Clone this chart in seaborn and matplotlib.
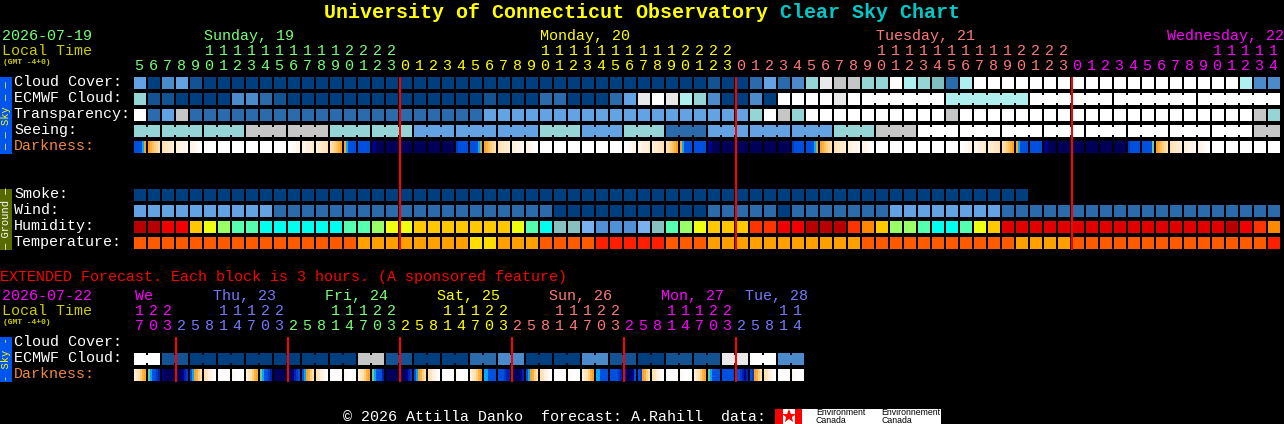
import numpy as np
import matplotlib
matplotlib.use("Agg")
import matplotlib.pyplot as plt
from matplotlib.colors import ListedColormap
from matplotlib.patches import Rectangle
import seaborn as sns

# palettes, data below are indexes into them
sky_colors = ["#003f7f", "#135393", "#2b6bab", "#4b8bcb", "#63a3e3", "#7fbfbf",
              "#95d5d5", "#afefef", "#c6c6c6", "#e9e9e9", "#ffffff"]
humidity_colors = ["#b80000", "#e00000", "#f00000", "#ff3300", "#ff8800", "#ffc800", "#eeff10",
                   "#99ff66", "#55ffb0", "#00ffee", "#88c0c0", "#78b0f0", "#5090d8"]
temperature_colors = ["#ff1e00", "#ff5a00", "#ffa000", "#ffdd00"]
darkness_colors = {"k": "#000058", "m": "#000090", "d": "#0020b0", "e": "#0038c8", "b": "#0050e0",
                   "c": "#00a8ff", "g": "#70c890", "y": "#c0a850", "o": "#ffa020", "h": "#ffb040",
                   "p": "#ffc060", "i": "#ffd080", "q": "#ffd898", "j": "#ffe0b0", "r": "#ffe6c0",
                   "l": "#ffebcc", "s": "#fff0dc", "n": "#fff5e6", "t": "#fffaf4", "w": "#ffffff"}

# hourly forecast, 82 blocks from 05h Sunday
cloud_cover = [4, 0, 3, 4, 1] + [0] * 36 + [1, 0, 0] + [2, 4, 2, 3, 6, 9, 8, 8, 6, 6, 10, 7, 6, 5, 2, 7] + [10] * 19 + [7, 3, 3]
ecmwf_cloud = [6, 1, 1, 0, 0, 0, 0, 3, 3, 2, 1] + [0] * 14 + [1, 0, 0, 0, 2, 2, 0, 0, 0, 2, 4, 9, 10, 9, 7, 6, 3, 0, 0, 3, 0] \
    + [10] * 4 + [9] + [10] * 7 + [7] * 6 + [10] * 18
transparency = [10, 2, 4, 8] + [2] * 21 + [4] * 19 + [6, 10, 8, 6] + [10] * 10 + [8] + [10] * 21 + [8, 6]
seeing = [6] * 8 + [8] * 6 + [6] * 6 + [4] * 9 + [6] * 3 + [4] * 3 + [6] * 3 + [2] * 3 + [4] * 9 + [6] * 3 + [8] * 3 + [10] * 24 + [8] * 2
smoke = [0] * 64 + [np.nan] * 18
wind = [4] * 10 + [2] * 20 + [0] * 11 + [2] * 5 + [0] + [2] * 7 + [4] * 8 + [2] * 20
humidity = [0, 0, 2, 2, 5, 6, 7, 8, 8] + [9] * 6 + [8, 8, 7, 6, 6, 5] + [5] * 6 + [6, 8, 9, 10, 10, 11, 12, 12, 12, 11, 10, 8, 7, 6, 5, 5, 5,
            3, 3, 2, 2, 0, 0, 0, 3, 4, 5, 7, 7, 8, 9, 9, 8, 6, 5] + [1] * 16 + [0, 2, 3, 4]
temperature = [1] * 16 + [2] * 8 + [3] * 2 + [2] * 3 + [1] * 4 + [0] * 5 + [1] * 3 + [2] * 11 + [1] * 11 + [2] * 4 + [1] * 14 + [0]

daylight = ["ohpiqj", "jrrlls", "ssnnnt", "nnttww"] + ["wwwwww"] * 6 + ["wwttnn", "nnsssl", "sllrrj", "jqipho"]
night = ["ocbbbb", "bbbbbb", "mmkkkk"] + ["kkkkkk"] * 5 + ["ebbbbb"]
darkness = ["bbbbco"] + daylight + night + ["bbbbcy"] + daylight + night + ["bbbbcy"] + daylight + night + ["bbbbbg"] + daylight[:9]

# extended forecast, 48 blocks of 3 hours
ext_cloud = [10, 10, 1, 1] + [0] * 12 + [8, 8, 1, 1, 0, 0, 0, 0, 2, 2, 3, 3, 0, 0, 0, 0, 3, 3, 1, 1, 0, 0, 1, 1, 1, 1, 9, 9, 10, 10, 3, 3]
ext_darkness = ["srjiho", "gcbbed", "mkkkkk", "kkkmde", "bcohij", "jrsntw", "wwwwww", "ttwwww",
                "srjiho", "gcbbed", "kkkkkk", "kkmdeb", "bcohij", "jrsntw", "wwwwww", "ttwwww",
                "srjiho", "gcbbbd", "kkkkkk", "kkkmde", "bcohij", "jrsntw", "wwwwww", "ttwwww",
                "srjiho", "ccbbbb", "bbbedd", "kkkkmd", "bcohij", "jrsntw", "wwwwww", "ttwwww",
                "srjiho", "ccbbbb", "bbbbed", "dkkkmb", "beohij", "jrsntw", "wwwwww", "ttwwww",
                "srjiho", "gcbbbb", "bbbbbb", "bbedmd", "beohij", "jrsntw", "wwwwww", "ttwwww"]

# tick labels
main_hours = list(range(5, 24)) + list(range(24)) + list(range(24)) + list(range(15))
ext_hours = [17, 20, 23] + [2, 5, 8, 11, 14, 17, 20, 23] * 5 + [2, 5, 8, 11, 14]
main_day_colors = ["#77ff77", "#ffff00", "#ff7878", "#ff00ff"]
ext_day_colors = ["#ff00ff", "#7878ff", "#77ff77", "#ffff00", "#ff7878", "#ff00ff", "#7878ff"]
main_days = ["Sunday, 19", "Monday, 20", "Tuesday, 21", "Wednesday, 22"]
main_day_x = [204, 540, 876, 1167]
ext_days = ["We", "Thu, 23", "Fri, 24", "Sat, 25", "Sun, 26", "Mon, 27", "Tue, 28"]
ext_day_x = [135, 213, 325, 437, 549, 661, 745]

W, H = 1284, 424
LEFT = 134
PITCH = 14
LABEL_SIZE = 10.8

sns.set_style("dark", {"axes.facecolor": "black", "figure.facecolor": "black"})
plt.rcParams["font.family"] = ["Liberation Mono", "DejaVu Sans Mono"]

fig = plt.figure(figsize=(W / 100, H / 100), dpi=100, facecolor="black")


def draw_strip(cells, colors, top, joined=()):
    # one row of blocks on a 2px grid: 6 columns of colour and 1 gap per block
    n = len(cells)
    grid = np.full((6, 7 * n), np.nan)
    for i, cell in enumerate(cells):
        grid[:, 7 * i:7 * i + 6] = cell
    for i in joined:
        grid[1:5, 7 * i + 6] = cells[i]
    ax = fig.add_axes([LEFT / W, 1 - (top + 12) / H, 7 * n * 2 / W, 12 / H])
    sns.heatmap(grid, cmap=ListedColormap(colors), vmin=-0.5, vmax=len(colors) - 0.5,
                cbar=False, xticklabels=False, yticklabels=False, ax=ax)
    ax.set_facecolor("black")
    return ax


dark_keys = list(darkness_colors)
dark_palette = list(darkness_colors.values())


def dark_cells(rows):
    return [[dark_keys.index(c) for c in row] for row in rows]


# Sky block
draw_strip(cloud_cover, sky_colors, 77)
draw_strip(ecmwf_cloud, sky_colors, 93, [i for i in range(52, 81) if (i - 51) % 6])
draw_strip(transparency, sky_colors, 109)
draw_strip(seeing, sky_colors, 125, [i for i in range(81) if (i - 1) % 3])
draw_strip(dark_cells(darkness), dark_palette, 141)

# Ground block
draw_strip(smoke, sky_colors, 189)
draw_strip(wind, sky_colors, 205)
draw_strip(humidity, humidity_colors, 221)
draw_strip(temperature, temperature_colors, 237)

# Extended block
draw_strip(ext_cloud, sky_colors, 353, range(0, 47, 2))
draw_strip(dark_cells(ext_darkness), dark_palette, 369)

# text, red lines and side bars go on one overlay in pixel coordinates
over = fig.add_axes([0, 0, 1, 1])
over.set_xlim(0, W)
over.set_ylim(H, 0)
over.axis("off")
over.patch.set_alpha(0)


def label(x, y, s, color="white", size=LABEL_SIZE, **kw):
    over.text(x, y, s, color=color, fontsize=size, va="baseline", **kw)


def day_line(i, y0, y1):
    over.add_patch(Rectangle((LEFT + PITCH * i - 1, y0), 2, y1 - y0, color="#ff0000", lw=0, antialiased=False))


label(324, 18, "University of Connecticut Observatory", "#ffff00", 14.4, fontweight="bold")
label(780, 18, "Clear Sky Chart", "#00c8c8", 14.4, fontweight="bold")

label(2, 40, "2026-07-19", "#77ff77")
label(2, 55, "Local Time", "#cccc00")
label(3, 64, "(GMT -4+0)", "#cccc00", 5.8, fontweight="bold")
for name, x, color in zip(main_days, main_day_x, main_day_colors):
    label(x, 40, name, color)

day = 0
for i, hour in enumerate(main_hours):
    if hour == 0 and i > 0:
        day += 1
        day_line(i, 77, 250)
    cx = LEFT + PITCH * i + 5
    label(cx, 70, str(hour % 10), main_day_colors[day], ha="center")
    if hour >= 10:
        label(cx, 55, str(hour // 10), main_day_colors[day], ha="center")

for name, top, color in [("Cloud Cover:", 77, "white"), ("ECMWF Cloud:", 93, "white"),
                         ("Transparency:", 109, "white"), ("Seeing:", 125, "white"),
                         ("Darkness:", 141, "#ee8840"), ("Smoke:", 189, "white"),
                         ("Wind:", 205, "white"), ("Humidity:", 221, "white"),
                         ("Temperature:", 237, "white"), ("Cloud Cover:", 337, "white"),
                         ("ECMWF Cloud:", 353, "white"), ("Darkness:", 369, "#ee8840")]:
    label(14, top + 9, name, color)

label(0, 281, "EXTENDED Forecast. Each block is 3 hours. (A sponsored feature)", "#ff0000")
label(2, 300, "2026-07-22", "#ff00ff")
label(2, 315, "Local Time", "#cccc00")
label(3, 324, "(GMT -4+0)", "#cccc00", 5.8, fontweight="bold")
for name, x, color in zip(ext_days, ext_day_x, ext_day_colors):
    label(x, 300, name, color)

day = 0
for i, hour in enumerate(ext_hours):
    if i > 0 and hour < ext_hours[i - 1]:
        day += 1
        day_line(i, 337, 382)
    cx = LEFT + PITCH * i + 5
    label(cx, 330, str(hour % 10), ext_day_colors[day], ha="center")
    if hour >= 10:
        label(cx, 315, str(hour // 10), ext_day_colors[day], ha="center")

# side bars
over.add_patch(Rectangle((0, 77), 12, 77, color="#0055ee", lw=0))
over.add_patch(Rectangle((0, 189), 12, 61, color="#566a00", lw=0))
over.add_patch(Rectangle((0, 337), 12, 45, color="#0055ee", lw=0))
side = dict(rotation=90, ha="center", va="center", fontsize=7.5)
over.text(6, 115.5, "\u2014 \u2014 Sky \u2014 \u2014", color="#ffff00", **side)
over.text(6, 219, "\u2014 Ground \u2014", color="white", **side)
over.text(6, 359, "- Sky -", color="#ffff00", **side)

# footer and logo
label(343, 421, "\u00a9 2026 Attilla Danko  forecast: A.Rahill  data:")
over.add_patch(Rectangle((775, 409), 166, 15, color="white", lw=0))
over.add_patch(Rectangle((775, 409), 8, 15, color="#ff0000", lw=0))
over.add_patch(Rectangle((795, 409), 7, 15, color="#ff0000", lw=0))
over.plot([789], [416], marker="*", color="#ff0000", markersize=10, markeredgewidth=0)
for x, word in [(816, "Environment"), (881, "Environnement")]:
    over.text(x, 415, word, color="black", fontsize=6.3, family="Liberation Sans", va="baseline")
    over.text(x, 423, "Canada", color="black", fontsize=6.3, family="Liberation Sans", va="baseline")

fig.savefig("out.png", dpi=100, facecolor="black")
